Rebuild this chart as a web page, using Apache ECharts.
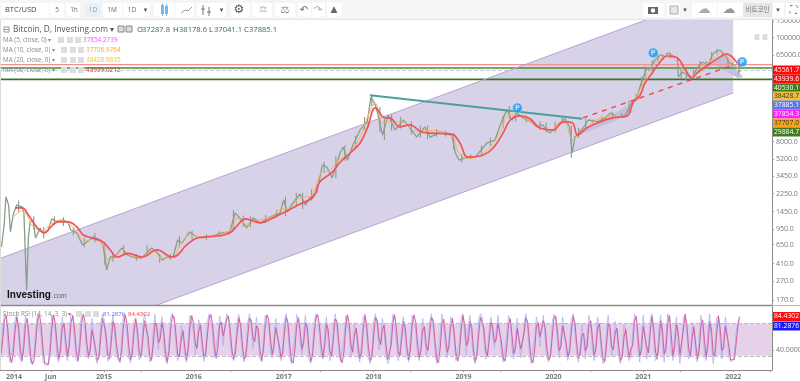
<!DOCTYPE html>
<html><head><meta charset="utf-8">
<style>html,body{margin:0;padding:0;background:#fff}#c{width:800px;height:381px}</style>
<script src="https://cdn.jsdelivr.net/npm/echarts@6/dist/echarts.min.js"></script>
</head><body><div id="c"></div>
<script>
// ---- values ----
const priceTickLabels=[150000,100000,65000,8000,5200,3450,2250,1450,950,650,410,270,170];
const yearTickLabels=[2014,2015,2016,2017,2018,2019,2020,2021,2022];
const priceDates=[2013.86,2013.89,2013.91,2013.94,2013.96,2013.99,2014.03,2014.09,2014.11,2014.14,2014.16,2014.18,2014.21,2014.24,2014.29,2014.32,2014.38,2014.42,2014.48,2014.53,2014.60,2014.63,2014.70,2014.76,2014.81,2014.88,2014.96,2014.99,2015.03,2015.07,2015.12,2015.20,2015.26,2015.32,2015.42,2015.53,2015.59,2015.65,2015.70,2015.77,2015.82,2015.87,2015.95,2016.04,2016.10,2016.21,2016.31,2016.40,2016.46,2016.51,2016.59,2016.66,2016.74,2016.85,2016.96,2017.00,2017.04,2017.10,2017.18,2017.24,2017.29,2017.37,2017.43,2017.48,2017.54,2017.63,2017.66,2017.71,2017.77,2017.85,2017.93,2017.97,2018.02,2018.05,2018.10,2018.16,2018.24,2018.33,2018.38,2018.48,2018.57,2018.63,2018.72,2018.87,2018.91,2018.95,2019.04,2019.13,2019.26,2019.35,2019.41,2019.48,2019.54,2019.60,2019.66,2019.74,2019.82,2019.88,2019.96,2020.05,2020.13,2020.18,2020.21,2020.24,2020.33,2020.39,2020.49,2020.58,2020.63,2020.71,2020.80,2020.87,2020.93,2020.96,2021.00,2021.04,2021.07,2021.13,2021.19,2021.24,2021.27,2021.33,2021.38,2021.39,2021.44,2021.54,2021.60,2021.66,2021.72,2021.78,2021.85,2021.91,2021.96,2022.02,2022.08];
const priceValues=[615,1050,2080,1705,886,1342,1705,1630,1410,216,785,1132,1188,766,977,865,930,1218,1132,1188,1132,930,865,646,695,785,729,646,352,482,482,600,506,482,470,600,545,447,482,482,729,679,886,785,766,804,865,886,1410,1248,977,1248,1105,1279,1410,1930,1444,1790,2232,1705,2030,2342,4520,4300,3300,6200,7000,5100,7350,10600,12900,23600,19400,15200,9350,15200,10600,13500,12000,8900,11400,8900,9800,9350,6050,5100,5480,5480,7720,8290,12000,17200,13500,16000,14200,13200,11400,12000,9800,12000,13900,11400,6050,8900,11100,13500,12900,14200,16000,14500,15200,20400,23600,29400,38500,47800,45500,58000,65600,62500,68900,64000,61000,38500,43400,37500,47800,55300,51400,68900,74100,65600,54000,51400,43400];
const wickDates=[2014.05,2014.22,2014.33,2014.45,2014.55,2014.66,2014.78,2014.9,2015.01,2015.1,2015.22,2015.36,2015.48,2015.62,2015.74,2015.84,2015.98,2016.14,2016.28,2016.44,2016.55,2016.63,2016.8,2016.92,2017.02,2017.14,2017.21,2017.31,2017.45,2017.58,2017.68,2017.8,2017.9,2017.98,2018.07,2018.12,2018.2,2018.3,2018.42,2018.52,2018.6,2018.7,2018.8,2018.89,2018.98,2019.08,2019.2,2019.3,2019.44,2019.51,2019.58,2019.7,2019.85,2019.92,2020.02,2020.1,2020.2,2020.28,2020.36,2020.44,2020.54,2020.66,2020.76,2020.84,2020.92,2020.98,2021.02,2021.1,2021.16,2021.22,2021.3,2021.42,2021.48,2021.56,2021.63,2021.7,2021.76,2021.82,2021.88,2021.94,2022.0,2022.06];
const wickLows=[1450,950,760,1050,1020,820,610,690,400,430,500,440,500,420,450,610,740,730,800,900,1000,1000,1100,1250,1300,1700,1550,1900,3700,3300,5000,7000,10500,19000,10000,8300,10400,11000,9500,8800,8500,9000,9000,6600,4800,5200,5800,7200,11000,14000,13000,12800,10600,10000,10000,12500,5400,8700,11200,12400,12700,14000,14200,16500,21500,30000,36000,44000,56000,58000,60000,37000,36000,37000,48000,48000,58000,66000,62000,52000,46000,41000];
const wickHighs=[1900,1300,1000,1300,1270,1000,760,860,700,520,640,520,640,520,520,800,920,840,900,1500,1320,1300,1340,1500,2100,2300,2300,2500,4900,5600,7300,9200,14500,25000,18500,14000,15500,14500,13000,11800,11800,10800,10400,9800,5900,5900,7300,8800,15000,19000,17000,15000,13000,12600,13000,14500,11800,11200,14000,13700,14800,16500,16000,21500,25500,39000,50000,58000,68000,67000,70000,47000,46000,46000,57000,57000,70000,76000,72000,62000,56000,50000];
const ma60Dates=[2014.01,2014.09,2014.16,2014.26,2014.34,2014.40,2014.49,2014.60,2014.70,2014.77,2014.87,2014.99,2015.07,2015.15,2015.27,2015.43,2015.59,2015.76,2015.82,2015.92,2016.04,2016.26,2016.40,2016.49,2016.57,2016.66,2016.74,2016.88,2017.04,2017.16,2017.33,2017.40,2017.54,2017.63,2017.74,2017.85,2017.93,2018.02,2018.13,2018.18,2018.29,2018.40,2018.54,2018.65,2018.87,2018.96,2019.05,2019.22,2019.33,2019.44,2019.52,2019.63,2019.74,2019.85,2020.00,2020.11,2020.21,2020.27,2020.37,2020.52,2020.66,2020.82,2020.89,2020.96,2021.02,2021.10,2021.16,2021.27,2021.38,2021.47,2021.54,2021.61,2021.72,2021.80,2021.93,2022.02,2022.08];
const ma60Values=[1590,1590,1342,977,865,977,1132,1132,1000,823,766,695,572,482,527,482,572,482,506,646,766,804,865,1052,1218,1160,1105,1248,1480,1705,2080,2985,3800,4860,6050,7720,11100,18100,14200,14200,11400,12000,10050,9800,9560,7720,5480,5760,6830,9800,13500,14900,13900,11100,10600,12900,12600,9350,11100,12900,14200,14900,20900,24200,33300,42400,51400,64000,61000,45600,37500,43400,51400,58000,67000,58000,47800];
const ma10Dates=[2014.0,2014.1,2014.2,2014.3,2014.4,2014.5,2014.6,2014.7,2014.77,2014.88,2014.99,2015.05,2015.12,2015.2,2015.3,2015.42,2015.53,2015.65,2015.77,2015.85,2015.95,2016.1,2016.3,2016.42,2016.48,2016.6,2016.7,2016.85,2016.98,2017.05,2017.18,2017.3,2017.42,2017.5,2017.63,2017.72,2017.85,2017.95,2018.02,2018.1,2018.2,2018.33,2018.48,2018.6,2018.87,2018.94,2019.05,2019.15,2019.3,2019.42,2019.5,2019.65,2019.8,2019.96,2020.12,2020.21,2020.33,2020.45,2020.62,2020.8,2020.9,2021.0,2021.07,2021.15,2021.27,2021.38,2021.45,2021.55,2021.62,2021.7,2021.8,2021.87,2021.95,2022.05,2022.08];
const ma10Values=[1300,1500,1050,900,1050,1180,1100,900,700,740,660,440,470,580,500,480,560,470,480,650,820,780,840,950,1250,1050,1180,1260,1550,1550,2050,2100,3800,3900,5300,5800,9000,16000,20500,12500,13000,12800,10200,10500,9400,6200,5300,5500,7000,10500,15500,14700,12000,10500,13200,8500,10200,13000,14800,14900,21500,33000,46000,56000,66000,55000,44000,39500,46000,53000,62000,71000,60000,48000,44000];
const channelDates=[2013.855,2022.0,2022.0,2015.59,2013.855];
const channelPrices=[470,337000,26100,150,150];
const smallChannelDates=[2020.2,2020.82,2020.89,2020.66];
const smallChannelPrices=[8700,19000,16400,12900];
const lastChannelDates=[2021.76,2021.89,2022.11,2022.05];
const lastChannelPrices=[54000,65600,38500,37500];
const channelTopDates=[2013.855,2022.0];
const channelTopPrices=[470,337000];
const channelBottomDates=[2015.59,2022.0];
const channelBottomPrices=[150,26100];
const trendDates=[2017.96,2020.32];
const trendPrices=[24700,13900];
const dashDates=[2020.33,2022.0];
const dashPrices=[14200,51400];
const dotDates=[2021.54,2021.88];
const dotPrices=[38000,60000];
const levelPrices=[52000,47800,45000,36300];
const badgeDates=[2021.11,2019.6,2022.1];
const badgePrices=[68900,18100,55300];
const rsiBandHigh=75.1, rsiBandLow=32.4;
const rsiBlue=[38,72,88,84,46,24,22,48,80,88,58,28,24,60,86,78,40,22,20,36,74,88,86,56,26,20,22,20,50,86,88,64,32,24,54,84,68,38,26,64,88,85,52,27,24,62,88,89,68,34,28,52,82,56,30,22,38,76,88,80,44,25,31,70,86,58,36,26,23,58,87,88,62,30,23,46,80,83,50,27,33,71,88,74,42,24,28,66,87,60,40,70,84,48,26,22,52,84,89,78,42,26,36,72,60,30,24,56,86,87,64,34,50,80,66,36,25,44,78,88,86,58,30,28,62,85,70,46,74,88,82,50,30,26,48,80,87,60,33,24,40,76,88,70,42,60,84,52,28,24,56,86,88,72,38,30,58,82,60,34,26,46,80,88,64,30,22,24,60,87,80,48,34,66,86,56,28,22,42,78,88,86,60,32,28,64,84,50,26,38,74,88,68,36,24,22,54,86,88,62,30,44,76,62,34,24,48,84,88,58,30,22,40,78,88,70,40,54,82,64,32,22,28,66,88,86,50,26,38,72,84,56,30,24,60,86,88,66,34,26,52,82,60,32,46,78,88,70,36,22,24,62,88,74,44,30,58,84,80,46,26,24,50,84,88,60,32,70,86,54,28,22,42,80,88,84,52,28,36,70,84,58,42,66,86,64,36,24,26,60,86,78,42,28,56,82,52,30,48,78,88,66,34,22,24,58,84,70,44,72,86,52,30,24,38,76,88,82,48,30,60,84,62,36,26,50,82,88,64,34,24,44,74,50,28,62,86,72,40,26,56,84,66,36,22,26,64,86,58,32,48,78,60,30,22,38,74,62,34,26,30,62,88,80,40,24,54,86,60,28,44,80,88,52,26,30,70,86,46,24,58,88,82,38,26,62,84,44,22,48,84,88,56,28,36,76,64,32,24,56,86,72,34,26,66,88,48,22,40,82,86,50,28,58,84,60,30,24,24,30,62,76,81.29];
const rsiRed=[34,55,80,86,65,35,23,35,64,84,73,43,26,42,73,82,59,31,21,28,55,81,87,71,41,23,21,21,35,68,87,76,48,28,39,69,76,53,32,45,76,86,68,40,26,43,75,88,78,51,31,40,67,69,43,26,30,57,82,84,62,35,28,50,78,72,47,31,25,40,72,87,75,46,27,34,63,81,66,38,30,52,79,81,58,33,26,47,76,73,50,55,77,66,37,24,37,68,86,83,60,34,31,54,66,45,27,40,71,86,75,49,42,65,73,51,30,34,61,83,87,72,44,29,45,73,77,58,60,81,85,66,40,28,37,64,83,73,46,28,32,58,82,79,56,51,72,68,40,26,40,71,87,80,55,34,44,70,71,47,30,36,63,84,76,47,26,23,42,73,83,64,41,50,76,71,42,25,32,60,83,87,73,46,30,46,74,67,38,32,56,81,78,52,30,23,38,70,87,75,46,37,60,69,48,29,36,66,86,73,44,26,31,59,83,79,55,47,68,73,48,27,25,47,77,87,68,38,32,55,78,70,43,27,42,73,87,77,50,30,39,67,71,46,39,62,83,79,53,29,23,43,75,81,59,37,44,71,82,63,36,25,37,67,86,74,46,51,78,70,41,25,32,61,84,86,68,40,32,53,77,71,50,54,76,75,50,30,25,43,73,82,60,35,42,69,67,41,39,63,83,77,50,28,23,41,71,77,57,58,79,69,41,27,31,57,82,85,65,39,45,72,73,49,31,38,66,85,76,49,29,34,59,62,39,45,74,79,56,33,41,70,75,51,29,24,45,75,72,45,40,63,69,45,26,30,56,68,48,30,42,46,78,85,60,32,40,72,72,44,36,62,85,70,39,28,50,79,67,35,40,75,86,60,32,44,74,64,33,35,67,87,72,42,32,56,71,48,28,40,72,80,53,30,46,78,68,35,31,62,85,68,39,43,72,72,45,27,25,27,46,69,84.43];
const rsiStartYear=2013.855, rsiStepYears=1.75/89.9;
const tags=[['45561.7','#ff0a0a','#fff'],['43939.6','#ff0a0a','#fff'],['40530.1','#3f7d1c','#fff'],['38428.7','#efc03c','#333'],['37885.1','#5a78e6','#fff'],['37854.3','#ff1eff','#fff'],['37707.0','#ffa50f','#333'],['29884.7','#3f7d1c','#fff']];
const maRows=[['MA (5, close, 0)','37854.2739','#ff4dff',83,58],['MA (10, close, 0)','37706.9764','#ffa726',86,61],['MA (20, close, 0)','38428.6835','#eebb33',86,61],['MA (60, close, 0)','43939.6212','#f03030',86,61]];

// ---- helpers ----
const lg=v=>Math.log10(v);
const pairs=(xs,ys)=>xs.map((x,i)=>[x,lg(ys[i])]);
const line=(xs,ys,color,width,type,z,smooth)=>({type:'line',data:pairs(xs,ys),showSymbol:false,symbol:'none',silent:true,clip:true,z:z||3,smooth:smooth||false,
  lineStyle:{color,width,type:type||'solid'},animation:false});
const xMin=2013.844,xMax=2022.432;
const polys=[[channelDates,channelPrices,'#d8d2e8'],[smallChannelDates,smallChannelPrices,'#c5bfde'],[lastChannelDates,lastChannelPrices,'#c5bfde']];
const monthTicks=[];yearTickLabels.forEach(y=>{monthTicks.push(y,y+0.41)});
const xTickVals=monthTicks.filter(v=>v<xMax);
const labelVals=[...yearTickLabels,2014.41];

// ---- page furniture ----
const g=[];
const rect=(x,y,w,h,fill,stroke)=>g.push({type:'rect',silent:true,z:50,shape:{x,y,width:w,height:h},style:{fill:fill||'none',stroke:stroke||'none',lineWidth:1}});
const txt=(x,y,text,fill,size,opt)=>g.push({type:'text',silent:true,z:60,x,y,style:{text,fill,font:(opt&&opt.weight||'normal')+' '+size+'px '+(opt&&opt.family||'"Open Sans","Noto Sans CJK KR",sans-serif'),textAlign:opt&&opt.align||'left',textVerticalAlign:'middle',textBaseline:'middle'}});
const sym=(x,y,text,fill,size)=>g.push({type:'text',silent:true,z:60,x,y,style:{text,fill,font:size+'px "DejaVu Sans"',textAlign:'center',textBaseline:'middle',textVerticalAlign:'middle'}});
const seg=(x1,y1,x2,y2,c,w)=>g.push({type:'line',silent:true,z:55,shape:{x1,y1,x2,y2},style:{stroke:c,lineWidth:w||1}});
// toolbar
rect(0,0,800,19,'#f5f5f5');seg(0,19.5,800,19.5,'#e4e4e4');
rect(1,3,48,14,'#fff');txt(5,10,'BTC/USD','#444',7.5);
[[50,14,'5',57],[66,14,'1h',74],[85,16,'1D',93],[103,19,'1M',112],[123,18,'1D',132]].forEach((b,i)=>{rect(b[0],3,b[1],14,i==2?'#e9f0f6':'#fff');txt(b[3],10,b[2],i==2?'#6aa7d8':'#666',6.5,{align:'center'})});
[[141,9],[154,21],[176,18],[197,20],[217,9],[231,19],[252,20],[275,20],[298,13],[312,13],[327,15]].forEach(b=>rect(b[0],3,b[1],14,'#fff'));
sym(145.5,10,'▾','#555',7);sym(221.5,10,'▾','#555',7);
rect(161,5,3,9,'#7ab6e4');rect(165,6,3,8,'#7ab6e4');seg(162.5,3.5,162.5,16,'#7ab6e4');seg(166.5,4,166.5,16,'#7ab6e4');
g.push({type:'polyline',silent:true,z:55,shape:{points:[[181,13],[185,10],[188,11],[192,7]]},style:{stroke:'#999',fill:'none',lineWidth:1}});
seg(203,5,203,15,'#777');seg(209,7,209,16,'#777');seg(201,9,205,9,'#777');seg(207,12,211,12,'#777');
sym(239,10,'⚙','#555',12);sym(263,10,'⚖','#aaa',9);sym(285,10,'⚖','#888',10);
sym(304,10,'↶','#666',10);sym(318,10,'↷','#aaa',10);sym(334,10,'▲','#666',9);
rect(643,3,21,14,'#fff');rect(648,7,10,7,'#666');g.push({type:'circle',silent:true,z:56,shape:{cx:653,cy:10.5,r:2.2},style:{fill:'#fff'}});
rect(667,3,13,14,'#fff');rect(670,6,8,8,'#e8e8e8','#aaa');sym(685,10,'▾','#555',7);
rect(692,3,25,14,'#fff');sym(704,10,'☁','#aaa',13);rect(718,3,25,14,'#fff');sym(729,10,'☁','#999',13);
rect(743,3,29,14,'#e6e6e6');txt(757.5,10,'비트코인','#777',6.5,{align:'center'});rect(773,3,11,14,'#fff');sym(778,10,'▾','#555',7);
rect(786,3,14,14,'#fff');sym(793,10,'⛶','#666',10);
// legend
rect(4,27,5,5,'#fff','#999');seg(4,29.5,9,29.5,'#999');
txt(13,29.5,'Bitcoin, D, Investing.com ▾','#555',8.3);
rect(118,26,6,6,'#ddd','#888');rect(126,26,6,6,'#ddd','#888');
[[137,'O','#444'],[142,'37287.8','#3d6b4b'],[173,'H','#444'],[179,'38178.6','#3d6b4b'],[209,'L','#444'],[214,'37041.1','#3d6b4b'],[244,'C','#444'],[249,'37885.1','#3d6b4b']].forEach(t=>txt(t[0],29.5,t[1],t[2],7.6));
maRows.forEach((r,i)=>{const y=40+i*10;txt(3,y,r[0]+' ▾','#8a8a8a',6.3);[0,9,17].forEach(d=>rect(r[4]+d,y-3,6,6,'#ddd'));txt(r[3],y,r[1],r[2],6.4)});
// logo
txt(7,295,'Investing','#111',10,{weight:'bold',family:'"Liberation Sans"'});txt(51.5,296.5,'.com','#666',7,{family:'"Liberation Sans"'});
// small scale buttons
rect(754.5,34,5,6,'#ddd');rect(762.5,34,5,6,'#ddd');
// price tags
tags.forEach((t,i)=>{const y=[70,79,88,96,105,114,123,132][i];rect(773,y-4.5,27,9,t[1]);txt(786.5,y,t[0],t[2],6.8,{align:'center'})});
rect(773,312,27,9,'#ff0a0a');txt(786.5,316.5,'84.4302','#fff',6.8,{align:'center'});
rect(773,321.5,27,9,'#1a1aff');txt(786.5,326,'81.2876','#fff',6.8,{align:'center'});
// stoch legend
txt(3,314,'Stoch RSI (14, 14, 3, 3) ▾','#8a8a8a',6.3);[76,85,93].forEach(x=>rect(x,311,6,6,'#ddd'));
txt(103,314,'81.2876','#6060f0',6);txt(128,314,'84.4302','#f04040',6);
// separators
seg(0,305.5,772,305.5,'#8a8a8a',1.6);seg(772,305.5,800,305.5,'#bbb',1);seg(0.5,20,0.5,370,'#dcdcdc',1);

const series=[
 {type:'custom',coordinateSystem:'cartesian2d',xAxisIndex:0,yAxisIndex:0,clip:true,silent:true,z:1,data:polys.map((p,i)=>[i]),encode:{x:0},
  renderItem:(params,api)=>{const p=polys[api.value(0)];return{type:'polygon',shape:{points:p[0].map((x,i)=>api.coord([x,lg(p[1][i])]))},style:{fill:p[2]}}}},
 line(channelTopDates,channelTopPrices,'#b8a2d2',1),
 line(channelBottomDates,channelBottomPrices,'#b8a2d2',1),
 ...levelPrices.map((v,i)=>line([xMin,xMax],[v,v],['#f29090','#4f8a2a','#c6caee','#3b7426'][i],[1.2,1.6,1,1.6][i],i==2?'dashed':'solid',2)),
 {type:'custom',coordinateSystem:'cartesian2d',xAxisIndex:0,yAxisIndex:0,clip:true,silent:true,z:3,
  data:wickDates.map((d,i)=>[d,lg(wickLows[i]),lg(wickHighs[i])]),encode:{x:0,y:[1,2]},
  renderItem:(params,api)=>{const a=api.coord([api.value(0),api.value(1)]),b=api.coord([api.value(0),api.value(2)]);
   return{type:'line',shape:{x1:a[0],y1:a[1],x2:b[0],y2:b[1]},style:{stroke:'#8b9c90',lineWidth:1.1}}}},
 line(trendDates,trendPrices,'#4aa197',2,null,6),
 line(dashDates,dashPrices,'#e9474f',1.4,[5,5],6),
 line(dotDates,dotPrices,'#e88a9a',0.8,[2,2],6),
 line(priceDates,priceValues,'#84a08b',1.3,null,3),
 line(ma10Dates,ma10Values,'#f2b45c',1,null,4,0.3),
 line(ma60Dates,ma60Values,'#f2525a',1.7,null,5,0.4),
 {type:'scatter',data:pairs(badgeDates,badgePrices),symbolSize:10,z:8,silent:true,itemStyle:{color:'#1e96f0',borderColor:'#dff',borderWidth:0.5},
  label:{show:true,formatter:'P',position:'inside',color:'#fff',fontSize:6.5,fontWeight:'bold'}},
 {type:'line',xAxisIndex:1,yAxisIndex:1,showSymbol:false,symbol:'none',silent:true,z:3,lineStyle:{color:'#b0b0f6',width:0.8},
  data:rsiBlue.map((v,i)=>[rsiStartYear+i*rsiStepYears,v]),
  markArea:{silent:true,itemStyle:{color:'#e5d2e9'},data:[[{yAxis:rsiBandHigh},{yAxis:rsiBandLow}]]},
  markLine:{silent:true,symbol:'none',label:{show:false},lineStyle:{color:'#c4b6c6',type:'dashed',width:1},data:[{yAxis:rsiBandHigh},{yAxis:rsiBandLow}]}},
 {type:'line',xAxisIndex:1,yAxisIndex:1,showSymbol:false,symbol:'none',silent:true,z:4,lineStyle:{color:'#c9559a',width:1.1,opacity:.85},
  data:rsiRed.map((v,i)=>[rsiStartYear+i*rsiStepYears,v])}
];

const chart=echarts.init(document.getElementById('c'),null,{renderer:'canvas'});
chart.setOption({animation:false,backgroundColor:'#fff',
 grid:[{left:0,right:28,top:20,height:285,outerBoundsMode:'none'},{left:0,right:28,top:306,height:64,outerBoundsMode:'none'}],
 xAxis:[
  {type:'value',gridIndex:0,min:xMin,max:xMax,splitLine:{show:false},axisLine:{show:false},axisTick:{show:false},axisLabel:{show:false}},
  {type:'value',gridIndex:1,min:xMin,max:xMax,splitLine:{show:false},axisLine:{show:true,onZero:false,lineStyle:{color:'#8a8a8a'}},
   axisTick:{show:true,length:2,lineStyle:{color:'#999'},customValues:xTickVals},
   axisLabel:{customValues:labelVals,color:'#777',fontSize:7,fontWeight:'bold',margin:3,fontFamily:'Open Sans',hideOverlap:false,
    formatter:v=>Math.abs(v-2014.41)<1e-6?'Jun':String(Math.round(v))}}
 ],
 yAxis:[
  {type:'value',gridIndex:0,position:'right',min:lg(150),max:lg(153700),splitLine:{show:false},
   axisLine:{show:true,lineStyle:{color:'#8a8a8a'}},axisTick:{show:true,length:2,lineStyle:{color:'#999'},customValues:priceTickLabels.map(lg)},
   axisLabel:{customValues:priceTickLabels.map(lg),color:'#777',fontSize:7,margin:4,fontFamily:'Open Sans',hideOverlap:false,formatter:v=>Math.round(Math.pow(10,v)).toFixed(1)}},
  {type:'value',gridIndex:1,position:'right',min:13.5,max:98.4,splitLine:{show:false},
   axisLine:{show:true,lineStyle:{color:'#8a8a8a'}},axisTick:{show:true,length:2,lineStyle:{color:'#999'},customValues:[40]},
   axisLabel:{customValues:[40],color:'#777',fontSize:7,margin:4,fontFamily:'Open Sans',formatter:v=>v.toFixed(4)}}
 ],
 series,graphic:{elements:g}
});
</script></body></html>
